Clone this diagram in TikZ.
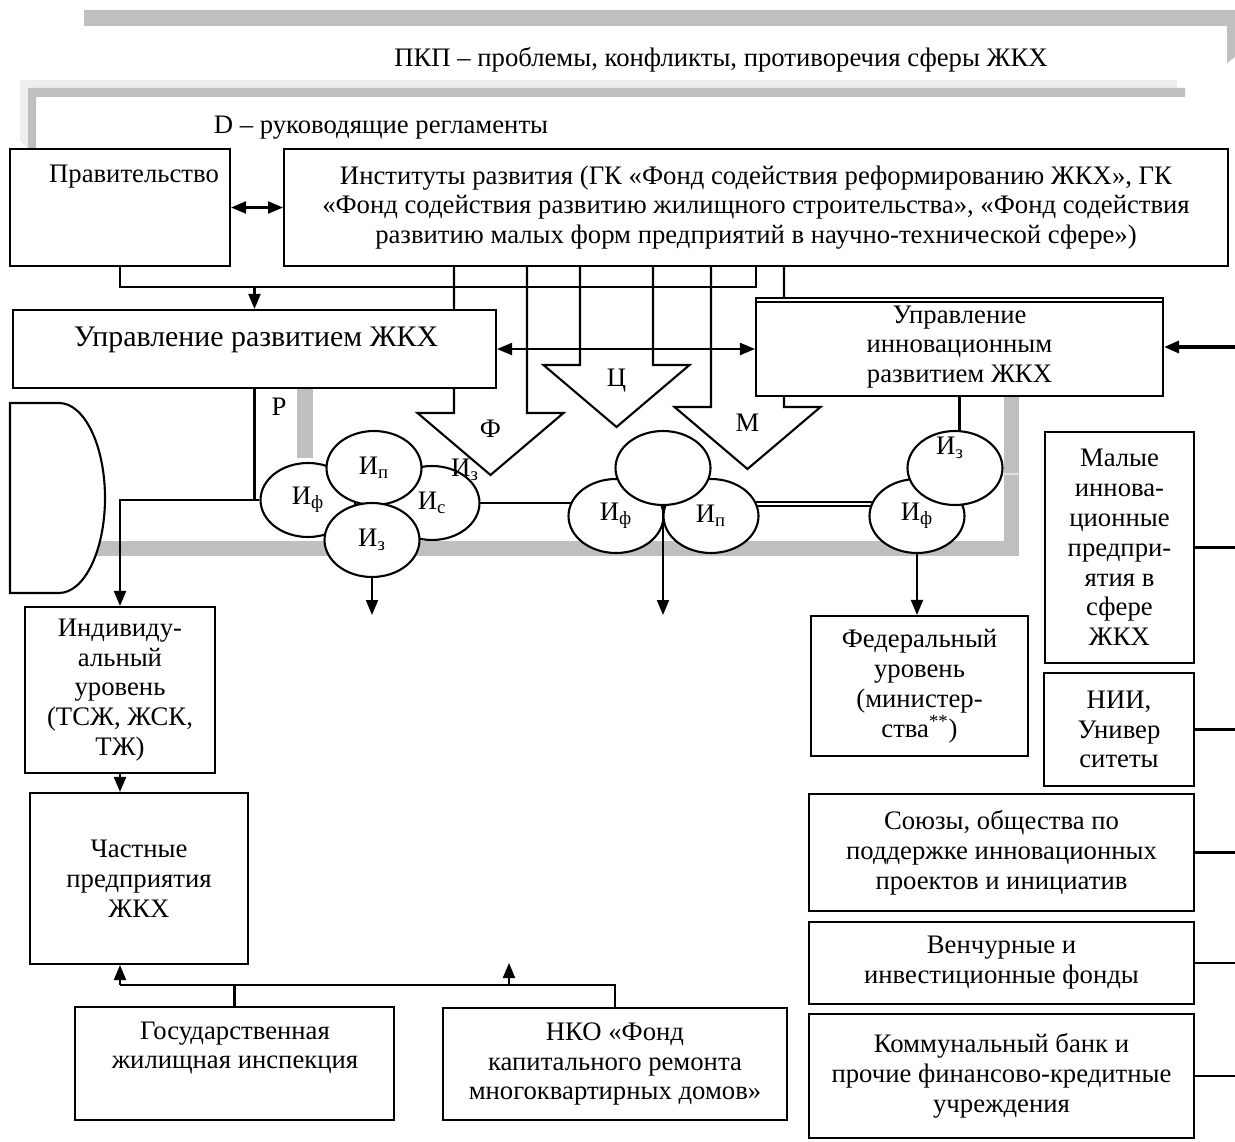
\documentclass[tikz,border=0pt]{standalone}
\usepackage{fontspec}
\setmainfont{Liberation Serif}
\usetikzlibrary{arrows.meta,shapes.geometric,backgrounds}
\definecolor{bandgrey}{HTML}{BFBFBF}
\definecolor{bandlight}{HTML}{EEEEEE}
\tikzset{
  box/.style={draw,fill=white,line width=1.2pt,align=center,inner sep=0pt},
  txt/.style={align=center,inner sep=1pt},
  oval/.style={ellipse,draw,fill=white,line width=1.2pt,minimum width=1.9cm,minimum height=1.48cm,inner sep=0pt},
  ln/.style={line width=1.2pt},
  arr/.style={ln,-{Triangle[length=0.3cm,width=0.24cm]}},
  darr/.style={ln,{Triangle[length=0.3cm,width=0.24cm]}-{Triangle[length=0.3cm,width=0.24cm]}},
  dline/.style={double,double distance=0.045cm,line width=0.8pt},
}
\begin{document}
\begin{tikzpicture}[x=0.02cm,y=-0.02cm,every node/.style={font=\fontsize{15.2}{17}\selectfont}]
  \useasboundingbox (0,0) rectangle (1235,1142);
  \coordinate (rim) at (1235,0);
  % headings
  \node[txt] (pkp) at (721,60) {ПКП – проблемы, конфликты, противоречия сферы ЖКХ};
  \node[txt] (dreg) at (381,128) {D – руководящие регламенты};
  % upper level
  \node[box,minimum width=4.4cm,minimum height=2.34cm] (gov) at (120,207.5) {};
  \node[txt] (govt) at (134,177) {Правительство};
  \node[box,minimum width=18.88cm,minimum height=2.34cm] (inst) at (756,207.5) {Институты развития (ГК «Фонд содействия реформированию ЖКХ», ГК\\«Фонд содействия развитию жилищного строительства», «Фонд содействия\\развитию малых форм предприятий в научно-технической сфере»)};
  \node[box,minimum width=9.66cm,minimum height=1.56cm] (urz) at (254.5,349) {};
  \node[txt,font=\fontsize{17}{20}\selectfont] (urzt) at (256,340) {Управление развитием ЖКХ};
  \node[box,minimum width=8.14cm,minimum height=1.96cm] (uin) at (959.5,347) {Управление\\инновационным\\развитием ЖКХ};
  \draw[ln] (uin.north west) ++(0,5) -- ++(407,0);
  % right column
  \node[box,minimum width=2.98cm,minimum height=4.62cm] (mal) at (1119.5,547.5) {Малые\\иннова-\\ционные\\предпри-\\ятия в\\сфере\\ЖКХ};
  \node[box,minimum width=3cm,minimum height=2.26cm] (nii) at (1119,729.5) {НИИ,\\Универ\\ситеты};
  \node[box,minimum width=4.34cm,minimum height=2.8cm] (fed) at (919.5,686) {Федеральный\\уровень\\(министер-\\ства\textsuperscript{**})};
  \node[box,minimum width=7.7cm,minimum height=2.34cm] (soy) at (1001.5,852.5) {Союзы, общества по\\поддержке инновационных\\проектов и инициатив};
  \node[box,minimum width=7.7cm,minimum height=1.64cm] (ven) at (1001.5,963) {Венчурные и\\инвестиционные фонды};
  \node[box,minimum width=7.7cm,minimum height=2.48cm] (kom) at (1001.5,1076) {Коммунальный банк и\\прочие финансово-кредитные\\учреждения};
  % left column
  \node[box,minimum width=3.8cm,minimum height=3.32cm] (ind) at (120,690) {Индивиду-\\альный\\уровень\\(ТСЖ, ЖСК,\\ТЖ)};
  \node[box,minimum width=4.36cm,minimum height=3.42cm] (cha) at (139,878.5) {Частные\\предприятия\\ЖКХ};
  \node[box,minimum width=6.38cm,minimum height=2.26cm] (gos) at (234.5,1063.5) {};
  \node[txt] (gost) at (235,1048) {Государственная\\жилищная инспекция};
  \node[box,minimum width=6.88cm,minimum height=2.24cm] (nko) at (615,1064) {НКО «Фонд\\капитального ремонта\\многоквартирных домов»};
  % instruments
  \node[oval] (c1f) at (308,500) {И\textsubscript{ф}};
  \node[oval] (c1s) at (432,503) {И\textsubscript{с}};
  \node[oval] (c1p) at (374,468) {И\textsubscript{п}};
  \node[oval] (c1z) at (372,540) {И\textsubscript{з}};
  \node[oval] (c2f) at (616,516) {И\textsubscript{ф}};
  \node[oval] (c2p) at (711,516) {И\textsubscript{п}};
  \node[oval] (c2t) at (663,468) {};
  \node[oval] (c3f) at (917,516) {И\textsubscript{ф}};
  \node[oval] (c3z) at (955,468) {};
  \node[txt] (c3zl) at (950,448) {И\textsubscript{з}};
  \node[txt] (izl) at (465,470) {И\textsubscript{з}};
  \node[txt] (rl) at (279,407) {Р};
  \coordinate (bus) at (120,287);
  \coordinate (bbus) at (120,985);
  \coordinate (bmid) at (509,985);
  \coordinate (up1) at (509,963);
  \coordinate (d1) at (372,615);
  \coordinate (d2) at (663,615);
  \begin{scope}[on background layer]
    % grey frames
    \fill[bandgrey] (84,10) -- (1235,10) -- (1235,57) -- (1227,63) -- (1227,26) -- (84,26) -- cycle;
    \fill[bandlight] (20,80) -- (1177,80) -- (1177,88) -- (28,88) -- (28,149) -- (20,141) -- cycle;
    \fill[bandgrey] (28,88) -- (1185,88) -- (1185,97) -- (36,97) -- (36,149) -- (28,149) -- cycle;
    \fill[bandgrey] (297,388) rectangle (313,458);
    \fill[bandgrey] (60,541) rectangle (1019,556);
    \fill[bandgrey] (1004,396) rectangle (1019,556);
    \draw[black!12,line width=0.6pt] (1004,474) -- (1019,474);
    % block arrows
    \foreach \cx/\sy/\nm/\lab in {490.5/413/fa/Ф, 616.5/365/ca/Ц, 747.5/407/ma/М}{
      \draw[ln] (\cx-36.5,266) -- (\cx-36.5,\sy) -- (\cx-73,\sy) -- (\cx,\sy+62) -- (\cx+73,\sy) -- (\cx+36.5,\sy) -- (\cx+36.5,266);
      \node[txt] (\nm) at (\cx,\sy+16) {\lab};
    }
    % connectors
    \draw[ln] (gov.south) -- (bus) -| (inst.south);
    \draw[arr] (bus -| urz.north) -- (urz.north);
    \draw[darr] (gov.east) -- (gov.east -| inst.west);
    \draw[darr] (urz.east) -- (urz.east -| uin.west);
    \draw[arr,line width=1.8pt] (uin.east -| rim) -- (uin.east);
    \draw[ln] (urz.south) |- (c1f.west);
    \draw[arr] (urz.south |- c1f.west) -| (ind.north);
    \draw[ln] (c1s.center) -- (c1s.center -| c2f.center);
    \draw[dline] ([yshift=0.24cm]c2p.center) -- ([yshift=0.24cm]c3f.center);
    \draw[ln] (uin.south) -- (uin.south |- c3z.north);
    \draw[arr] (c1z.south) -- (d1);
    \draw[arr] (c3f.south) -- (c3f.south |- fed.north);
    \draw[arr] (ind.south) -- (ind.south |- cha.north);
    \draw[ln] (gos.north) -- (gos.north |- bbus);
    \draw[ln] (nko.north) |- (bbus);
    \draw[arr] (bbus) -- (bbus |- cha.south);
    \draw[arr] (bmid) -- (up1);
    \foreach \b in {mal,nii,soy,ven,kom}
      \draw[ln] (\b.east) -- (\b.east -| rim);
  \end{scope}
  \draw[arr] (c2t.south) -- (d2);
  % left half-oval
  \draw[ln,fill=white] (10,403) -- (59,403) .. controls (84.4,403) and (105,445.6) .. (105,498) .. controls (105,550.4) and (84.4,593) .. (59,593) -- (10,593) -- cycle;
\end{tikzpicture}
\end{document}
